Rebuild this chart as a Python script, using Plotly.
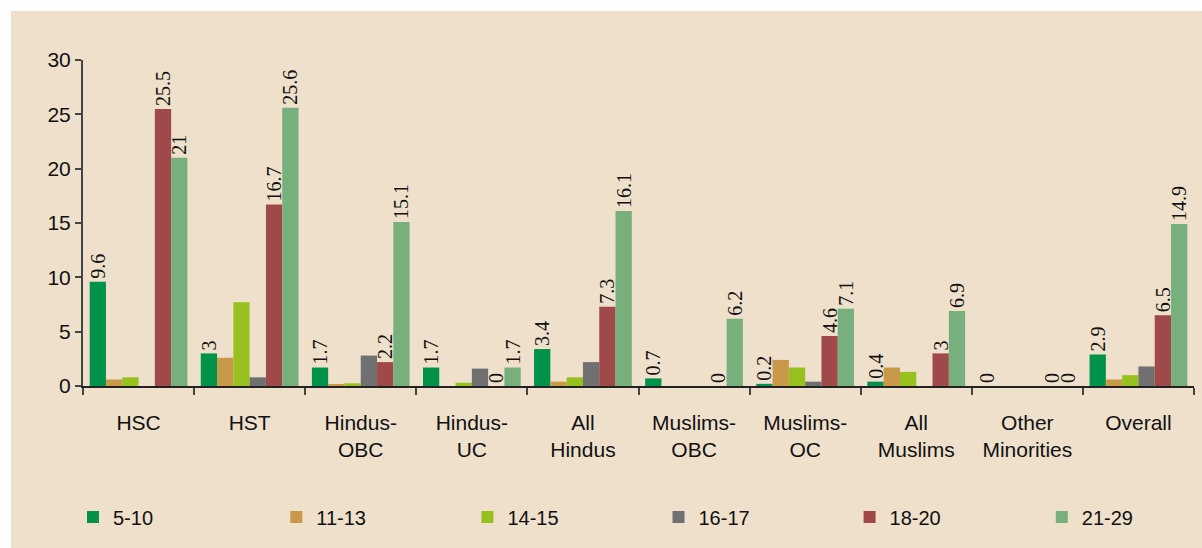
import plotly.graph_objects as go

categories = ["HSC", "HST", "Hindus-<br>OBC", "Hindus-<br>UC", "All<br>Hindus",
              "Muslims-<br>OBC", "Muslims-<br>OC", "All<br>Muslims",
              "Other<br>Minorities", "Overall"]

age_5_10 = [9.6, 3, 1.7, 1.7, 3.4, 0.7, 0.2, 0.4, 0, 2.9]
age_11_13 = [0.6, 2.6, 0.15, 0, 0.4, 0, 2.4, 1.7, 0, 0.6]
age_14_15 = [0.8, 7.7, 0.25, 0.3, 0.8, 0, 1.7, 1.3, 0, 1.0]
age_16_17 = [0, 0.8, 2.8, 1.6, 2.2, 0, 0.4, 0, 0, 1.8]
age_18_20 = [25.5, 16.7, 2.2, 0, 7.3, 0, 4.6, 3, 0, 6.5]
age_21_29 = [21, 25.6, 15.1, 1.7, 16.1, 6.2, 7.1, 6.9, 0, 14.9]

series = [
    ("5-10", age_5_10, "#00924A", True),
    ("11-13", age_11_13, "#C9994A", False),
    ("14-15", age_14_15, "#96C11F", False),
    ("16-17", age_16_17, "#707070", False),
    ("18-20", age_18_20, "#A0494A", True),
    ("21-29", age_21_29, "#77B07D", True),
]

# left edge (in plot-area fraction) of each legend entry along the bottom row
legend_x = [-0.009, 0.174, 0.346, 0.518, 0.690, 0.863]

BG = "#EEE0CB"

fig = go.Figure()
legends = {}
for i, (name, vals, color, labelled) in enumerate(series):
    key = "legend" if i == 0 else f"legend{i + 1}"
    fig.add_trace(go.Bar(
        x=categories, y=vals, name=name, legend=key,
        marker=dict(color=color, line=dict(width=0)),
        texttemplate="%{y}" if labelled else None,
        textposition="outside" if labelled else "none",
        textangle=-90,
        constraintext="none",
        cliponaxis=False,
        textfont=dict(family="Liberation Serif", size=20, color="#111"),
    ))
    legends[key] = dict(orientation="h", x=legend_x[i], xanchor="left",
                        y=-0.402, yanchor="middle", font=dict(size=20),
                        bgcolor="rgba(0,0,0,0)")

fig.update_layout(
    width=1202, height=548,
    margin=dict(l=83, r=8, t=60, b=162),
    paper_bgcolor=BG, plot_bgcolor=BG,
    barmode="group", bargap=0.12, bargroupgap=0,
    font=dict(family="Liberation Sans", color="#111"),
    showlegend=True,
    xaxis=dict(showline=True, linecolor="#222", linewidth=1.5,
               ticks="outside", tickson="boundaries", ticklen=7, tickwidth=2,
               tickcolor="#444", tickfont=dict(size=21), ticklabelstandoff=17,
               showgrid=False, zeroline=False),
    yaxis=dict(range=[0, 30], dtick=5, showline=True, linecolor="#444", linewidth=2,
               ticks="outside", ticklen=6, tickwidth=2, tickcolor="#444",
               tickfont=dict(size=21), showgrid=False, zeroline=False),
    shapes=[
        dict(type="rect", xref="paper", yref="paper", x0=-0.08, x1=1.02,
             y0=1.150, y1=1.2, fillcolor="white", line=dict(width=0), layer="below"),
        dict(type="rect", xref="paper", yref="paper", x0=-0.08, x1=-0.0648,
             y0=-0.6, y1=1.2, fillcolor="white", line=dict(width=0), layer="below"),
    ],
    **legends,
)

fig.write_html("out.html")
